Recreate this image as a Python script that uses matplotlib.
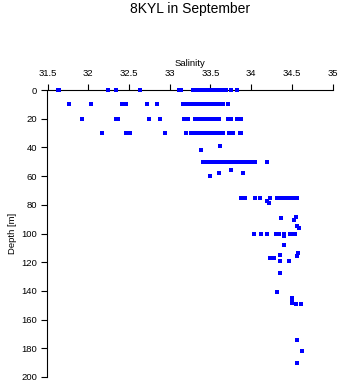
import numpy as np
import matplotlib.pyplot as plt

# salinity readings on the standard levels (depth in m)
sal_0m = [31.63, 31.64, 32.24, 32.34, 32.64, 33.12, 33.14, 33.29, 33.31, 33.33,
          33.35, 33.37, 33.39, 33.41, 33.43, 33.45, 33.47, 33.49, 33.51, 33.53,
          33.55, 33.59, 33.64, 33.67, 33.69, 33.75, 33.83]
sal_10m = [31.77, 32.03, 32.41, 32.44, 32.47, 32.72, 32.84, 33.16, 33.19, 33.22,
           33.25, 33.30, 33.33, 33.36, 33.39, 33.42, 33.45, 33.48, 33.51, 33.54,
           33.56, 33.59, 33.62, 33.65, 33.72]
sal_20m = [31.92, 32.34, 32.37, 32.75, 32.88, 33.18, 33.23, 33.31, 33.36, 33.39,
           33.42, 33.45, 33.48, 33.51, 33.54, 33.57, 33.60, 33.72, 33.75, 33.83,
           33.88]
sal_30m = [32.17, 32.46, 32.51, 32.94, 33.20, 33.26, 33.31, 33.35, 33.38, 33.41,
           33.44, 33.47, 33.50, 33.53, 33.56, 33.60, 33.65, 33.73, 33.78, 33.86,
           33.88]
sal_50m = [33.41, 33.44, 33.47, 33.50, 33.53, 33.56, 33.58, 33.62, 33.65, 33.69,
           33.73, 33.76, 33.79, 33.82, 33.85, 33.88, 33.90, 33.93, 33.96, 33.99,
           34.02, 34.05, 34.20]
sal_75m = [33.88, 33.93, 34.05, 34.11, 34.23, 34.32, 34.37, 34.40, 34.43, 34.46,
           34.49, 34.51, 34.56]
sal_100m = [34.03, 34.12, 34.20, 34.30, 34.32, 34.34, 34.40, 34.48, 34.50, 34.52,
            34.54]

# odd depths
other_sal = [33.62, 33.39, 33.75, 33.61, 33.90, 33.49, 34.20, 34.22, 34.37, 34.55,
             34.53, 34.56, 34.59, 34.40, 34.41, 34.58, 34.56, 34.36, 34.23, 34.25,
             34.28, 34.36, 34.47, 34.36, 34.32, 34.50, 34.50, 34.50, 34.55, 34.61,
             34.56, 34.62, 34.56]
other_depth = [38.7, 42, 56, 57.8, 57.8, 60, 77.6, 79, 89.5, 88.6,
               90.7, 94.7, 96, 101.7, 107.7, 113.8, 115.7, 114.7, 116.8, 116.8,
               116.8, 118.9, 118.9, 127.6, 140.6, 145, 147, 148.5, 149.4, 149.4,
               174, 182, 190.2]

levels = {0: sal_0m, 10: sal_10m, 20: sal_20m, 30: sal_30m,
          50: sal_50m, 75: sal_75m, 100: sal_100m}

plt.rcParams['font.family'] = ['Liberation Sans', 'DejaVu Sans']

fig = plt.figure(figsize=(3.41, 3.84), dpi=100)
ax = fig.add_axes([47.5/341, 7/384, 285/341, 287/384])

col = (0, 0, 1)
for d, s in levels.items():
    ax.plot(s, [d]*len(s), 's', color=col, ms=2.4, mew=0, clip_on=False, zorder=3)
ax.plot(other_sal, other_depth, 's', color=col, ms=2.4, mew=0, clip_on=False,
        zorder=3)

ax.set_xlim(31.5, 35)
ax.set_ylim(200, 0)
xt = np.arange(31.5, 35.01, 0.5)
ax.set_xticks(xt)
ax.set_xticklabels([f"{v:g}" for v in xt])
ax.set_yticks(np.arange(0, 201, 20))
ax.xaxis.tick_top()
ax.xaxis.set_label_position('top')
ax.tick_params(labelsize=6.8, length=4, width=0.8, color='black', pad=3.5)
ax.tick_params(axis='x', pad=4.5)

for side in ['right', 'bottom']:
    ax.spines[side].set_visible(False)
for side in ['left', 'top']:
    ax.spines[side].set_linewidth(0.8)

ax.set_xlabel('Salinity', fontsize=6.8, labelpad=2)
ax.set_ylabel('Depth [m]', fontsize=6.8, labelpad=3)
fig.text(190/341, 1 - 9/384, '8KYL in September', ha='center', va='center',
         fontsize=10)

fig.savefig('out.png', dpi=100)
